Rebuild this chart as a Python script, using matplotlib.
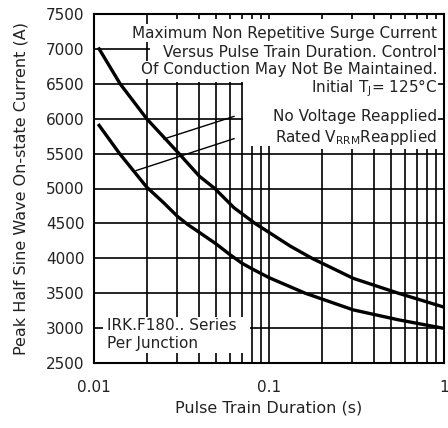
import numpy as np
import matplotlib
matplotlib.use("Agg")
import matplotlib.pyplot as plt
from matplotlib.patches import Rectangle
from matplotlib.ticker import LogLocator, NullFormatter

# Curves (pulse train duration in s, current in A)
no_volt_x = [0.0107, 0.0141, 0.0200, 0.0306, 0.040, 0.049, 0.0631, 0.0832,
             0.100, 0.132, 0.176, 0.303, 0.548, 0.98]
no_volt_y = [7000, 6500, 6000, 5500, 5176, 5000, 4724, 4500,
             4371, 4176, 4000, 3713, 3500, 3307]

rated_x = [0.0107, 0.0140, 0.0200, 0.0249, 0.030, 0.0345, 0.040, 0.050,
           0.060, 0.070, 0.080, 0.100, 0.161, 0.303, 0.548, 0.98]
rated_y = [5904, 5500, 5020, 4800, 4600, 4480, 4371, 4204,
           4050, 3930, 3849, 3723, 3500, 3261, 3119, 3000]

# pointer lines from the labels to the curves
ptr_no_volt_x = [0.0631, 0.0251]
ptr_no_volt_y = [6033, 5710]
ptr_rated_x = [0.0631, 0.0174]
ptr_rated_y = [5714, 5257]

xticks = [0.01, 0.1, 1]
xtick_labels = ["0.01", "0.1", "1"]
yticks = list(range(2500, 7501, 500))

plt.rcParams["font.family"] = ["DejaVu Sans"]
plt.rcParams["mathtext.fontset"] = "dejavusans"

fig = plt.figure(figsize=(4.48, 4.28), dpi=100)
ax = fig.add_axes([94/448, 65/428, 350/448, 349/428])

ax.set_xscale("log")
ax.set_xlim(0.01, 1)
ax.set_ylim(2500, 7500)
ax.set_xticks(xticks)
ax.set_xticklabels(xtick_labels)
ax.xaxis.set_minor_locator(LogLocator(base=10, subs=np.arange(2, 10)))
ax.xaxis.set_minor_formatter(NullFormatter())
ax.set_yticks(yticks)

ax.grid(True, which="both", color="black", lw=1.2, zorder=1)
ax.set_axisbelow(True)
ax.tick_params(which="both", length=0, labelsize=11, colors="#222222")
ax.tick_params(axis="x", pad=12)
ax.tick_params(axis="y", pad=7)
for s in ax.spines.values():
    s.set_linewidth(1.5)

ax.set_xlabel("Pulse Train Duration (s)", fontsize=11.5, color="#222222", labelpad=4)
ax.set_ylabel("Peak Half Sine Wave On-state Current (A)", fontsize=11.5,
              color="#222222", labelpad=12)

# white areas behind the notes
for r in [(0.16, 0.804, 0.82, 0.182), (0.426, 0.622, 0.554, 0.182),
          (0.026, 0.029, 0.42, 0.103)]:
    ax.add_patch(Rectangle(r[:2], r[2], r[3], transform=ax.transAxes,
                           facecolor="white", edgecolor="none", zorder=2))

ax.plot(no_volt_x, no_volt_y, color="black", lw=2.4, zorder=4)
ax.plot(rated_x, rated_y, color="black", lw=2.4, zorder=4)
ax.plot(ptr_no_volt_x, ptr_no_volt_y, color="black", lw=1.0, zorder=4)
ax.plot(ptr_rated_x, ptr_rated_y, color="black", lw=1.0, zorder=4)

box = dict(facecolor="white", edgecolor="none", pad=1.0)
notes = [
    ("Maximum Non Repetitive Surge Current", 0.945),
    ("Versus Pulse Train Duration. Control", 0.891),
    ("Of Conduction May Not Be Maintained.", 0.840),
    ("Initial T$_\\mathrm{J}$= 125°C", 0.788),
    ("No Voltage Reapplied", 0.705),
    ("Rated V$_\\mathrm{RRM}$Reapplied", 0.645),
]
for txt, y in notes:
    ax.text(0.98, y, txt, transform=ax.transAxes, ha="right", va="center",
            fontsize=11, color="#222222", bbox=box, zorder=3)

ax.text(0.037, 0.082, "IRK.F180.. Series\nPer Junction", transform=ax.transAxes,
        ha="left", va="center", fontsize=11, color="#222222",
        linespacing=1.25, zorder=3)

fig.savefig("out.png", dpi=100)
